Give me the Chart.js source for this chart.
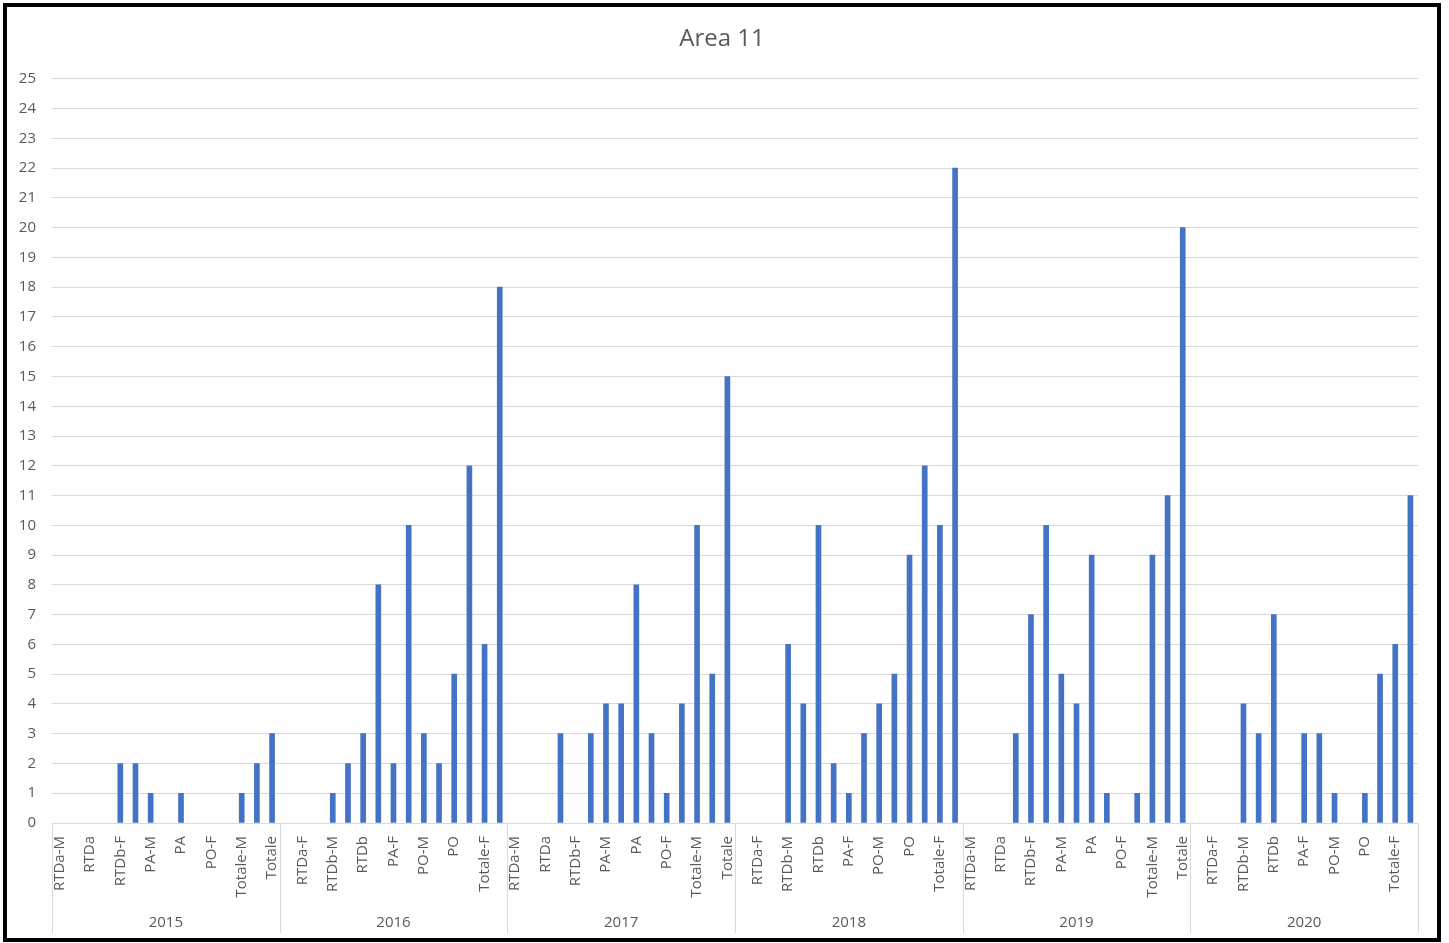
<!DOCTYPE html>
<html>
<head>
<meta charset="utf-8">
<script src="https://cdn.jsdelivr.net/npm/chart.js@4"></script>
<style>
  body { margin: 0; background: #ffffff; }
  #frame {
    position: absolute; left: 3px; top: 3px;
    width: 1430px; height: 931px;
    border: 4px solid #000000; background: #ffffff;
  }
  #chart { display: block; }
</style>
</head>
<body>
<div id="frame"><canvas id="chart" width="1430" height="931"></canvas></div>
<script>
const years = ["2015", "2016", "2017", "2018", "2019", "2020"];
const subCats = [
  "RTDa-M", "RTDa-F", "RTDa", "RTDb-M", "RTDb-F", "RTDb",
  "PA-M", "PA-F", "PA", "PO-M", "PO-F", "PO",
  "Totale-M", "Totale-F", "Totale",
];
const v2015 = [0, 0, 0, 0, 2, 2, 1, 0, 1, 0, 0, 0, 1, 2, 3];
const v2016 = [0, 0, 0, 1, 2, 3, 8, 2, 10, 3, 2, 5, 12, 6, 18];
const v2017 = [0, 0, 0, 3, 0, 3, 4, 4, 8, 3, 1, 4, 10, 5, 15];
const v2018 = [0, 0, 0, 6, 4, 10, 2, 1, 3, 4, 5, 9, 12, 10, 22];
const v2019 = [0, 0, 0, 3, 7, 10, 5, 4, 9, 1, 0, 1, 9, 11, 20];
const v2020 = [0, 0, 0, 4, 3, 7, 0, 3, 3, 1, 0, 1, 5, 6, 11];
const yTicks = [0, 25];

const FONT = "'Open Sans', 'Liberation Sans', sans-serif";
const TEXT = "#595959";
const LINE = "#d9d9d9";

const labels = [];
years.forEach(() => subCats.forEach((c) => labels.push(c)));
// empty cells are not drawn at all (no hairline on the axis)
const values = [].concat(v2015, v2016, v2017, v2018, v2019, v2020)
  .map((v) => (v === 0 ? null : v));

// year row + separators under the category axis
const yearAxis = {
  id: "yearAxis",
  afterDraw(chart) {
    const x = chart.scales.x;
    const ctx = chart.ctx;
    const n = subCats.length;
    const half = (x.getPixelForValue(1) - x.getPixelForValue(0)) / 2;
    const top = chart.chartArea.bottom;
    const bottom = chart.height - 5;
    ctx.save();
    ctx.strokeStyle = LINE;
    ctx.lineWidth = 1;
    for (let g = 0; g <= years.length; g++) {
      const px = g < years.length
        ? x.getPixelForValue(g * n) - half
        : x.getPixelForValue(g * n - 1) + half;
      ctx.beginPath();
      ctx.moveTo(Math.round(px) + 0.5, top);
      ctx.lineTo(Math.round(px) + 0.5, bottom);
      ctx.stroke();
    }
    ctx.fillStyle = TEXT;
    ctx.font = "15px " + FONT;
    ctx.textAlign = "center";
    ctx.textBaseline = "middle";
    years.forEach((yr, g) => {
      const a = x.getPixelForValue(g * n) - half;
      const b = x.getPixelForValue(g * n + n - 1) + half;
      ctx.fillText(yr, (a + b) / 2, 916);
    });
    ctx.restore();
  },
};

const ctx = document.getElementById("chart").getContext("2d");
const barChart = new Chart(ctx, {
  type: "bar",
  data: {
    labels: labels,
    datasets: [
      {
        label: "Area 11",
        data: values,
        backgroundColor: "#4472c4",
        borderWidth: 0,
        barThickness: 5,
      },
    ],
  },
  options: {
    responsive: false,
    animation: false,
    layout: {
      padding: { left: 0, right: 0, top: 0, bottom: 0 },
    },
    scales: {
      x: {
        grid: { display: false },
        border: { display: true, color: LINE, width: 1 },
        ticks: {
          autoSkip: false,
          minRotation: 90,
          maxRotation: 90,
          padding: 5,
          color: TEXT,
          font: { family: FONT, size: 15 },
          callback: function (val, i) {
            return i % 2 === 0 ? labels[i] : "";
          },
        },
        afterFit: function (scale) {
          scale.height = 115;
        },
      },
      y: {
        min: yTicks[0],
        max: yTicks[1],
        grid: { color: LINE, drawTicks: false },
        border: { display: false },
        ticks: {
          stepSize: 1,
          padding: 16,
          color: TEXT,
          font: { family: FONT, size: 15 },
        },
        afterFit: function (scale) {
          scale.width = 45;
        },
      },
      // empty right margin so the title stays centred on the whole frame
      yRight: {
        position: "right",
        grid: { display: false },
        border: { display: false },
        ticks: { display: false },
        afterFit: function (scale) {
          scale.width = 19;
        },
      },
    },
    plugins: {
      legend: { display: false },
      tooltip: { enabled: false },
      title: {
        display: true,
        text: "Area 11",
        color: TEXT,
        font: { family: FONT, size: 24, weight: "normal" },
        padding: { top: 18, bottom: 25 },
      },
    },
  },
  plugins: [yearAxis],
});
</script>
</body>
</html>
